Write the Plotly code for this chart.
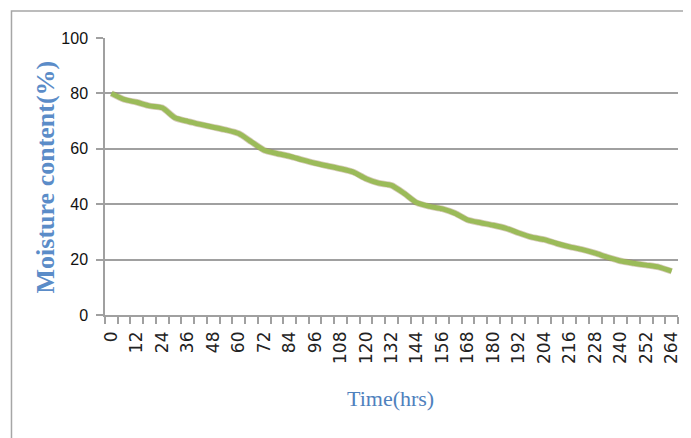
import plotly.graph_objects as go

hours = list(range(0, 265, 6))
moisture = [80.0, 77.8, 76.8, 75.5, 74.8, 71.2, 69.9, 68.8, 67.8, 66.8,
            65.5, 62.5, 59.5, 58.3, 57.3, 56.0, 54.8, 53.8, 52.8, 51.6,
            49.2, 47.6, 46.8, 43.9, 40.5, 39.2, 38.3, 36.7, 34.3, 33.3,
            32.4, 31.3, 29.6, 28.1, 27.2, 25.8, 24.6, 23.6, 22.3, 20.8,
            19.5, 18.7, 18.0, 17.3, 15.8]
x_tick_vals = list(range(0, 265, 12))
x_tick_text = [str(v) for v in x_tick_vals]
y_tick_vals = [0, 20, 40, 60, 80, 100]

GRID = "#a0a0a0"
BLUE = "#4F81BD"

fig = go.Figure()
fig.add_trace(go.Scatter(
    x=hours, y=moisture, mode="lines",
    line=dict(color="rgba(140,110,60,0.35)", width=6.5, shape="spline", smoothing=0.6),
    hoverinfo="skip", showlegend=False))
fig.add_trace(go.Scatter(
    x=hours, y=moisture, mode="lines",
    line=dict(color="#9BBB59", width=5, shape="spline", smoothing=0.6),
    showlegend=False))

fig.update_layout(
    width=683, height=430,
    margin=dict(l=97, r=10, t=30, b=123),
    paper_bgcolor="white", plot_bgcolor="white",
    showlegend=False,
    xaxis=dict(
        range=[-3, 267], tickmode="array", tickvals=x_tick_vals, ticktext=x_tick_text,
        tickangle=-90, ticks="outside", ticklen=8, tickcolor="rgba(0,0,0,0)",
        tickfont=dict(family="DejaVu Sans", size=17, color="#222"),
        showgrid=False, zeroline=False, showline=True, linecolor=GRID, linewidth=1.5,
        minor=dict(tick0=-3, dtick=6, ticks="outside", ticklen=7, tickcolor=GRID, tickwidth=1.5, showgrid=False),
    ),
    yaxis=dict(
        range=[0, 100], tickmode="array", tickvals=y_tick_vals,
        ticks="outside", ticklen=7, tickcolor=GRID, tickwidth=1.5,
        ticklabelstandoff=5,
        tickfont=dict(family="Liberation Sans", size=16, color="#111"),
        showgrid=True, gridcolor=GRID, gridwidth=1.5, zeroline=False,
        showline=True, linecolor=GRID, linewidth=1.5,
    ),
    annotations=[
        dict(text="<b>Moisture content(%)</b>", xref="paper", yref="paper",
             x=-0.103, y=0.5, textangle=-90, showarrow=False,
             xanchor="center", yanchor="middle",
             font=dict(family="Liberation Serif", size=26, color="#5B8CC8")),
        dict(text="Time(hrs)", xref="paper", yref="paper",
             x=0.498, y=-0.30, showarrow=False, xanchor="center", yanchor="middle",
             font=dict(family="Liberation Serif", size=22, color=BLUE)),
    ],
    shapes=[dict(type="rect", xref="paper", yref="paper",
                 x0=-0.1632, x1=1.04, y0=-0.5, y1=1.0975,
                 line=dict(color="#a6a6a6", width=1.5), fillcolor="rgba(0,0,0,0)", layer="below")],
)

fig.write_html("out.html")
